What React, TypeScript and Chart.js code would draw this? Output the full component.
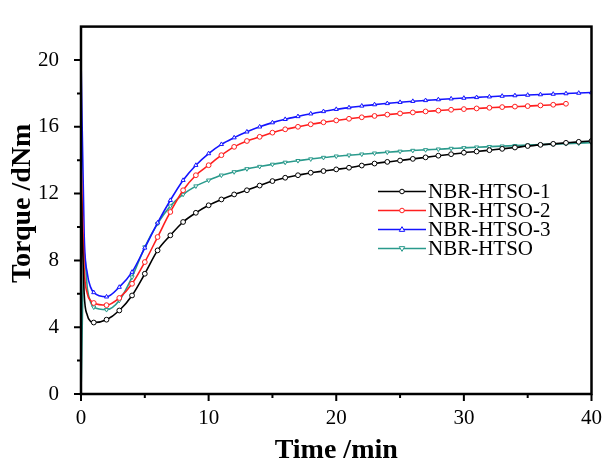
import React, { useEffect, useRef } from 'react';
import { Chart, registerables } from 'chart.js';

Chart.register(...registerables);

// Time (min)
const earlyTimes = [0, 0.25, 0.5, 0.75];
const minuteTimes = [1, 2, 3, 4, 5, 6, 7, 8, 9, 10, 11, 12, 13, 14, 15, 16, 17, 18, 19, 20,
  21, 22, 23, 24, 25, 26, 27, 28, 29, 30, 31, 32, 33, 34, 35, 36, 37, 38, 39, 40];

const seriesNames = ['NBR-HTSO-1', 'NBR-HTSO-2', 'NBR-HTSO-3', 'NBR-HTSO'];

// Torque (dNm)
const htso1Early = [12.5, 6.0, 4.7, 4.35];
const htso1 = [4.28, 4.45, 5.0, 5.9, 7.2, 8.6, 9.5, 10.3, 10.85, 11.3, 11.65, 11.95, 12.2, 12.48, 12.75,
  12.95, 13.1, 13.25, 13.35, 13.45, 13.55, 13.68, 13.8, 13.9, 13.98, 14.08, 14.17, 14.27, 14.36, 14.45,
  14.52, 14.6, 14.68, 14.76, 14.85, 14.92, 14.98, 15.04, 15.1, 15.15];

const htso2Early = [14.0, 7.5, 6.0, 5.6];
const htso2 = [5.45, 5.32, 5.75, 6.6, 7.9, 9.4, 10.9, 12.2, 13.1, 13.7, 14.3, 14.8, 15.15, 15.4, 15.65,
  15.85, 16.0, 16.15, 16.27, 16.38, 16.48, 16.57, 16.65, 16.73, 16.8, 16.86, 16.92, 16.97, 17.02, 17.06,
  17.1, 17.14, 17.18, 17.21, 17.24, 17.28, 17.32, 17.38];

const htso3Early = [20.2, 9.5, 7.2, 6.4];
const htso3 = [6.08, 5.82, 6.4, 7.3, 8.75, 10.25, 11.6, 12.8, 13.7, 14.4, 14.95, 15.35, 15.7, 16.0, 16.25,
  16.45, 16.62, 16.78, 16.92, 17.05, 17.15, 17.25, 17.33, 17.4, 17.47, 17.53, 17.58, 17.63, 17.68, 17.72,
  17.76, 17.8, 17.84, 17.87, 17.9, 17.93, 17.96, 17.99, 18.02, 18.05];

const htsoEarly = [0, 8.5, 6.3, 5.5];
const htso = [5.2, 5.05, 5.6, 7.0, 8.8, 10.2, 11.25, 11.95, 12.45, 12.8, 13.1, 13.3, 13.48, 13.62, 13.75,
  13.87, 13.97, 14.07, 14.16, 14.24, 14.3, 14.36, 14.42, 14.48, 14.53, 14.58, 14.62, 14.66, 14.7, 14.74,
  14.78, 14.81, 14.84, 14.87, 14.9, 14.93, 14.96, 14.99, 15.02, 15.05];

const xMajorTicks = [0, 10, 20, 30, 40];
const xMinorTicks = [5, 15, 25, 35];
const yMajorTicks = [0, 4, 8, 12, 16, 20];
const yMinorTicks = [2, 6, 10, 14, 18];

const colors = ['#000000', '#ff1f1f', '#1414ff', '#2a9a8c'];
const markers = ['circle', 'circle', 'triangle', 'triangle'];
const markerRot = [0, 0, 0, 180];

const SERIF = "'Liberation Serif', 'Times New Roman', serif";

function buildPoints(early: number[], vals: number[]) {
  const pts: { x: number; y: number }[] = [];
  early.forEach((v, i) => pts.push({ x: earlyTimes[i], y: v }));
  vals.forEach((v, i) => pts.push({ x: minuteTimes[i], y: v }));
  return pts;
}

function drawMarker(ctx: CanvasRenderingContext2D, style: string, rot: number, x: number, y: number, r: number, color: string) {
  ctx.save();
  ctx.translate(x, y);
  ctx.rotate((rot * Math.PI) / 180);
  ctx.beginPath();
  if (style === 'circle') {
    ctx.arc(0, 0, r, 0, Math.PI * 2);
  } else {
    const s = r * 1.25;
    ctx.moveTo(0, -s);
    ctx.lineTo(s * 0.95, s * 0.65);
    ctx.lineTo(-s * 0.95, s * 0.65);
    ctx.closePath();
  }
  ctx.fillStyle = '#ffffff';
  ctx.fill();
  ctx.strokeStyle = color;
  ctx.lineWidth = 1;
  ctx.stroke();
  ctx.restore();
}

const framePlugin = {
  id: 'frameAndLegend',
  afterDatasetsDraw(chart: any) {
    const { ctx, chartArea, scales } = chart;
    const { left, right, top, bottom } = chartArea;
    ctx.save();
    // ticks
    ctx.strokeStyle = '#000';
    ctx.lineWidth = 2;
    ctx.beginPath();
    xMajorTicks.forEach((v) => {
      const px = scales.x.getPixelForValue(v);
      ctx.moveTo(px, bottom);
      ctx.lineTo(px, bottom + 7);
    });
    xMinorTicks.forEach((v) => {
      const px = scales.x.getPixelForValue(v);
      ctx.moveTo(px, bottom);
      ctx.lineTo(px, bottom + 4);
    });
    yMajorTicks.forEach((v) => {
      const py = scales.y.getPixelForValue(v);
      ctx.moveTo(left, py);
      ctx.lineTo(left - 7, py);
    });
    yMinorTicks.forEach((v) => {
      const py = scales.y.getPixelForValue(v);
      ctx.moveTo(left, py);
      ctx.lineTo(left - 4, py);
    });
    ctx.stroke();
    // frame
    ctx.lineWidth = 2.5;
    ctx.strokeRect(left, top, right - left, bottom - top);

    // legend
    const lx0 = 378;
    const lx1 = 426;
    const ly0 = 191.5;
    const dy = 19;
    ctx.font = `21px ${SERIF}`;
    ctx.textBaseline = 'middle';
    ctx.textAlign = 'left';
    chart.data.datasets.forEach((ds: any, i: number) => {
      const y = ly0 + i * dy;
      ctx.strokeStyle = ds.borderColor;
      ctx.lineWidth = 1.6;
      ctx.beginPath();
      ctx.moveTo(lx0, y);
      ctx.lineTo(lx1, y);
      ctx.stroke();
      drawMarker(ctx, markers[i], markerRot[i], (lx0 + lx1) / 2, y, 2.3, ds.borderColor);
      ctx.fillStyle = '#000';
      ctx.fillText(ds.label, lx1 + 2, y + 1);
    });
    ctx.restore();
  },
};

export default function App() {
  const canvasRef = useRef<HTMLCanvasElement | null>(null);

  useEffect(() => {
    document.body.style.margin = '0';
    const canvas = canvasRef.current;
    if (!canvas) return;
    const seriesData = [
      buildPoints(htso1Early, htso1),
      buildPoints(htso2Early, htso2),
      buildPoints(htso3Early, htso3),
      buildPoints(htsoEarly, htso),
    ];
    const chart = new Chart(canvas, {
      type: 'line',
      data: {
        datasets: seriesNames.map((name, i) => ({
          label: name,
          data: seriesData[i],
          borderColor: colors[i],
          backgroundColor: '#ffffff',
          borderWidth: 1.6,
          cubicInterpolationMode: 'monotone' as const,
          pointStyle: markers[i] as any,
          pointRotation: markerRot[i],
          pointRadius: (c: any) => (c.raw && Number.isInteger(c.raw.x) && c.raw.x > 0 ? 2.4 : 0),
          pointBorderWidth: 1,
          pointBackgroundColor: '#ffffff',
          pointBorderColor: colors[i],
          fill: false,
        })),
      },
      options: {
        animation: false,
        responsive: false,
        maintainAspectRatio: false,
        layout: { padding: { top: 14, right: 14, left: 0, bottom: 0 } },
        plugins: {
          legend: { display: false },
          tooltip: { enabled: false },
        },
        scales: {
          x: {
            type: 'linear',
            min: 0,
            max: 40,
            grid: { display: false },
            border: { display: false },
            afterBuildTicks: (s: any) => {
              s.ticks = xMajorTicks.map((v) => ({ value: v }));
            },
            afterFit: (s: any) => {
              s.height = 69;
            },
            ticks: {
              autoSkip: false,
              maxRotation: 0,
              padding: 4,
              color: '#000',
              font: { family: SERIF, size: 21 },
            },
            title: {
              display: true,
              text: 'Time /min',
              color: '#000',
              font: { family: SERIF, size: 28, weight: 'bold', lineHeight: 0.9 },
              padding: { top: 0, bottom: 0 },
            },
          },
          y: {
            type: 'linear',
            min: 0,
            max: 22,
            grid: { display: false },
            border: { display: false },
            afterBuildTicks: (s: any) => {
              s.ticks = yMajorTicks.map((v) => ({ value: v }));
            },
            afterFit: (s: any) => {
              s.width = 81;
            },
            ticks: {
              autoSkip: false,
              padding: 14,
              color: '#000',
              font: { family: SERIF, size: 21 },
            },
            title: {
              display: true,
              text: '\u00a0\u00a0Torque /dNm',
              color: '#000',
              font: { family: SERIF, size: 28, weight: 'bold' },
              padding: { top: 6, bottom: 0 },
            },
          },
        },
      },
      plugins: [framePlugin],
    });
    return () => chart.destroy();
  }, []);

  return (
    <div style={{ width: 606, height: 463 }}>
      <canvas ref={canvasRef} width={606} height={463} style={{ display: 'block' }} />
    </div>
  );
}
